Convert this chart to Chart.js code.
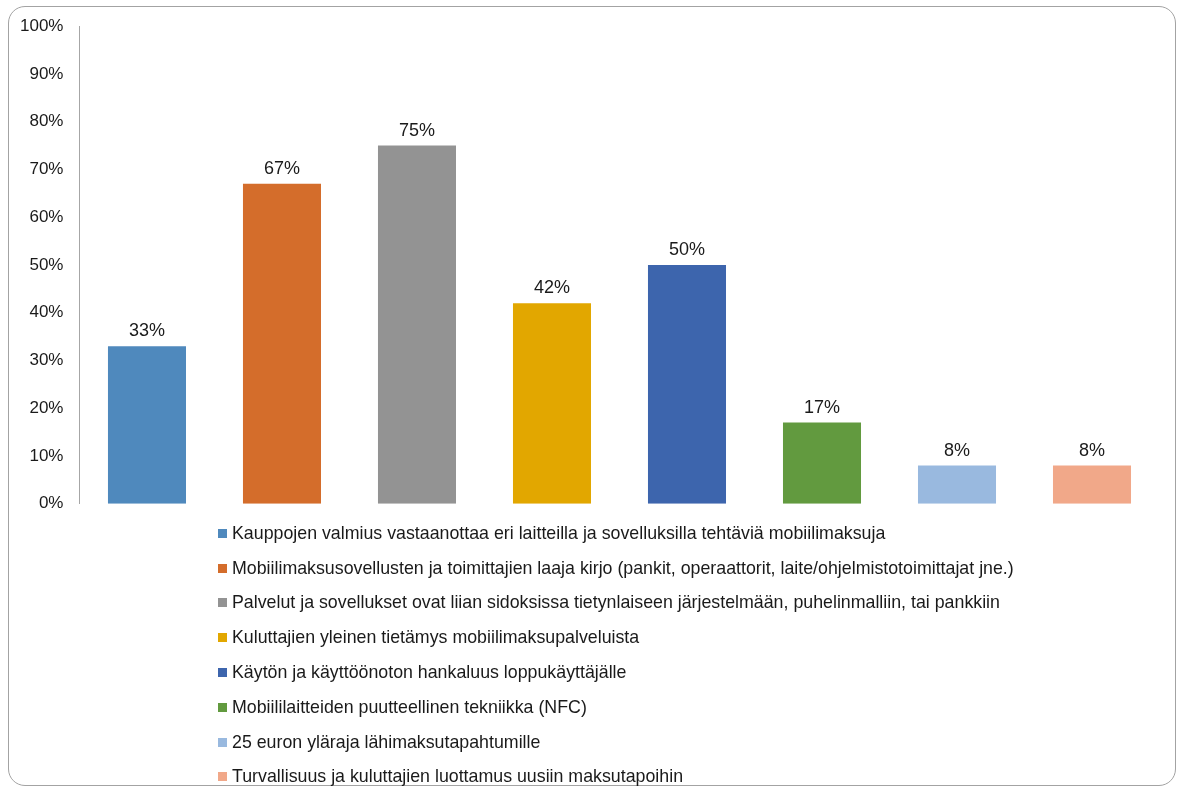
<!DOCTYPE html>
<html lang="fi">
<head>
<meta charset="utf-8">
<title>Mobiilimaksamisen esteet</title>
<script src="https://cdn.jsdelivr.net/npm/chart.js@4/dist/chart.umd.min.js"></script>
<style>
    html, body {
        margin: 0;
        padding: 0;
        background: #ffffff;
        font-family: "Liberation Sans", Arial, sans-serif;
    }
    .frame {
        position: absolute;
        left: 8px;
        top: 6px;
        width: 1168px;
        height: 780px;
        border: 1.5px solid #a3a3a3;
        border-radius: 17px;
        box-sizing: border-box;
    }
    .chart-wrap {
        position: absolute;
        left: 0;
        top: 0;
        width: 1181px;
        height: 530px;
    }
    #legend {
        position: absolute;
        left: 218px;
        top: 516px;
        margin: 0;
        padding: 0;
        list-style: none;
    }
    #legend li {
        display: flex;
        align-items: center;
        height: 34.8px;
        font-size: 17.8px;
        color: #1a1a1a;
        white-space: nowrap;
    }
    #legend .swatch {
        display: inline-block;
        width: 9px;
        height: 9px;
        margin-right: 5px;
    }
</style>
</head>
<body>
<div class="frame"></div>
<div class="chart-wrap"><canvas id="barChart"></canvas></div>
<ul id="legend"></ul>

<script>
const categories = [
    'Kauppojen valmius vastaanottaa eri laitteilla ja sovelluksilla tehtäviä mobiilimaksuja',
    'Mobiilimaksusovellusten ja toimittajien laaja kirjo (pankit, operaattorit, laite/ohjelmistotoimittajat jne.)',
    'Palvelut ja sovellukset ovat liian sidoksissa tietynlaiseen järjestelmään, puhelinmalliin, tai pankkiin',
    'Kuluttajien yleinen tietämys mobiilimaksupalveluista',
    'Käytön ja käyttöönoton hankaluus loppukäyttäjälle',
    'Mobiililaitteiden puutteellinen tekniikka (NFC)',
    '25 euron yläraja lähimaksutapahtumille',
    'Turvallisuus ja kuluttajien luottamus uusiin maksutapoihin'
];

// share of respondents, percent
const values = [33, 67, 75, 42, 50, 17, 8, 8];

const barColors = ['#4f89bd', '#d46d2b', '#939393', '#e2a700', '#3d65ad', '#629a3f', '#99b9df', '#f1a889'];

const FONT_FAMILY = "'Liberation Sans', Arial, sans-serif";

// value labels above each bar
const valueLabels = {
    id: 'valueLabels',
    afterDatasetsDraw(chart) {
        const ctx = chart.ctx;
        const meta = chart.getDatasetMeta(0);
        ctx.save();
        ctx.font = '18px ' + FONT_FAMILY;
        ctx.fillStyle = '#1a1a1a';
        ctx.textAlign = 'center';
        ctx.textBaseline = 'alphabetic';
        meta.data.forEach((bar, i) => {
            ctx.fillText(Math.round(chart.data.datasets[0].data[i]) + '%', bar.x, bar.y - 10);
        });
        ctx.restore();
    }
};

// one legend row per category, built from the chart's own data
const htmlLegend = {
    id: 'htmlLegend',
    afterUpdate(chart) {
        const list = document.getElementById('legend');
        list.innerHTML = '';
        const colors = chart.data.datasets[0].backgroundColor;
        chart.data.labels.forEach((label, i) => {
            const li = document.createElement('li');
            const box = document.createElement('span');
            box.className = 'swatch';
            box.style.background = colors[i];
            li.appendChild(box);
            li.appendChild(document.createTextNode(label));
            list.appendChild(li);
        });
    }
};

const chart = new Chart(document.getElementById('barChart'), {
    type: 'bar',
    data: {
        labels: categories,
        datasets: [{
            data: values,
            backgroundColor: barColors,
            borderWidth: 0,
            barPercentage: 0.578,
            categoryPercentage: 1
        }]
    },
    options: {
        responsive: true,
        maintainAspectRatio: false,
        animation: false,
        layout: {
            padding: { left: 4, right: 21.5, top: 26, bottom: 12 }
        },
        plugins: {
            legend: { display: false },
            tooltip: { enabled: false }
        },
        scales: {
            x: {
                display: false
            },
            y: {
                min: 0,
                max: 100,
                grid: { display: false, drawTicks: false },
                border: { display: true, color: '#a6a6a6', width: 1 },
                ticks: {
                    stepSize: 10,
                    padding: 16,
                    color: '#1a1a1a',
                    font: { family: FONT_FAMILY, size: 17 },
                    callback: v => v + '%'
                }
            }
        }
    },
    plugins: [valueLabels, htmlLegend]
});
</script>
</body>
</html>
